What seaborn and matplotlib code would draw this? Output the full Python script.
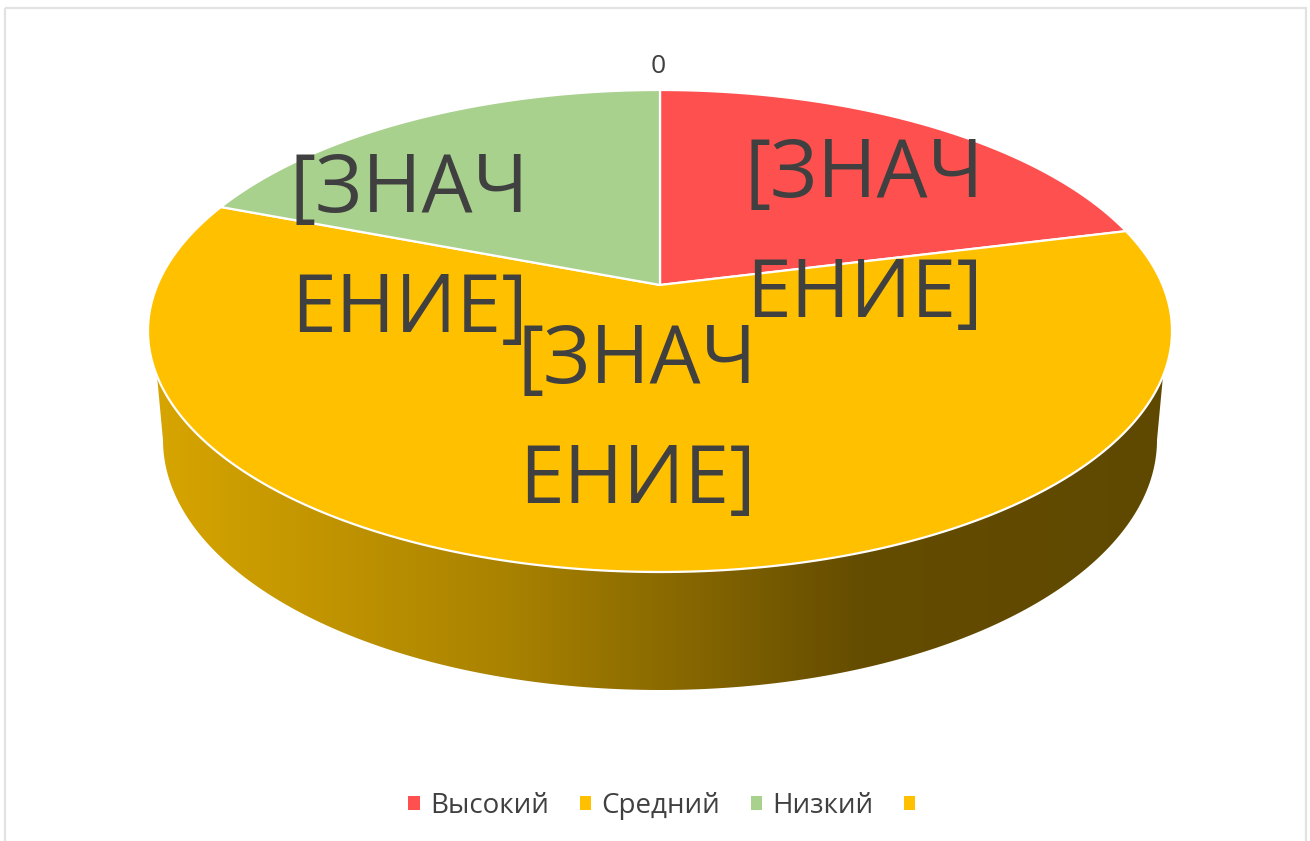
import numpy as np
import matplotlib
matplotlib.use("Agg")
import matplotlib.pyplot as plt
from matplotlib.colors import LinearSegmentedColormap
from matplotlib.patches import Patch, Polygon, Rectangle
import seaborn as sns

# Chart data
categories = ["Высокий", "Средний", "Низкий", ""]
values = [18.2, 65.4, 16.4, 0.0]
slice_colors = ["#FF5050", "#FFC000", "#A9D18E", "#FFC000"]
placeholder = "[ЗНАЧ\nЕНИЕ]"

sns.set_theme(style="white")
plt.rcParams["font.family"] = ["Open Sans", "DejaVu Sans"]
palette = sns.color_palette(slice_colors)
TEXT = "#404040"

fig = plt.figure(figsize=(13.10, 8.41), dpi=100, facecolor="white")
ax = fig.add_axes([0, 0, 1, 1])
ax.set_xlim(0, 1310)
ax.set_ylim(841, 0)
ax.axis("off")

ax.add_patch(Rectangle((5, 8), 1301, 860, fill=False, ec="#E2E2E2", lw=1.6))

# Pie geometry in figure pixels
cx, cy, rx, ry = 660, 331, 512, 241
apex = (660, 285)
low_cy, low_rx, low_ry = 440, 497, 250


def rim(angle_deg):
    """Point on the upper rim, angle clockwise from twelve o'clock."""
    t = np.radians(angle_deg)
    return np.column_stack([cx + rx * np.sin(t), cy - ry * np.cos(t)])


# Side wall: lower half of the top rim closed by the base rim, shaded left to right
t_top = np.linspace(np.pi / 2 - 0.1, 3 * np.pi / 2 + 0.1, 200)
upper = np.column_stack([cx + rx * np.sin(t_top), cy - ry * np.cos(t_top)])
t_low = np.linspace(3 * np.pi / 2, np.pi / 2, 200)
lower = np.column_stack([cx + low_rx * np.sin(t_low), low_cy - low_ry * np.cos(t_low)])
wall = Polygon(np.vstack([upper, lower]), closed=True, fc="none", ec="none",
               transform=ax.transData)
ax.add_patch(wall)
shade = LinearSegmentedColormap.from_list(
    "wall", [(0, "#D8A600"), (0.35, "#A98200"), (0.7, "#644C00"), (1, "#5F4900")])
gradient = ax.imshow(np.linspace(0, 1, 512)[None, :], cmap=shade, aspect="auto",
                     extent=(148, 1172, 700, 340), zorder=1)
gradient.set_clip_path(wall)
ax.set_xlim(0, 1310)
ax.set_ylim(841, 0)

# Top face, one wedge per value, starting at twelve o'clock
total = sum(values)
start = 0.0
for value, color in zip(values, palette):
    sweep = value / total * 360
    if sweep > 0:
        arc = rim(np.linspace(start, start + sweep, 240))
        ax.add_patch(Polygon(np.vstack([apex, arc]), closed=True, fc=color,
                             ec="white", lw=1.6, joinstyle="round", zorder=2))
    start += sweep

# Data labels
label_style = dict(fontsize=58, color=TEXT, ha="center", va="center",
                   linespacing=1.65, zorder=3)
ax.text(864, 236, placeholder, **label_style)
ax.text(409, 251, placeholder, **label_style)
ax.text(637, 422, placeholder, **label_style)
ax.text(658, 66, "0", fontsize=19, color=TEXT, ha="center", va="center", zorder=3)

handles = [Patch(fc=c, ec="none") for c in palette]
ax.legend(handles, categories, ncol=4, loc="center", bbox_to_anchor=(667 / 1310, 1 - 806 / 841),
          frameon=False, fontsize=20, labelcolor=TEXT, handlelength=0.4, handleheight=0.4,
          handletextpad=0.38, columnspacing=1.1)

fig.savefig("out.png", dpi=100)
